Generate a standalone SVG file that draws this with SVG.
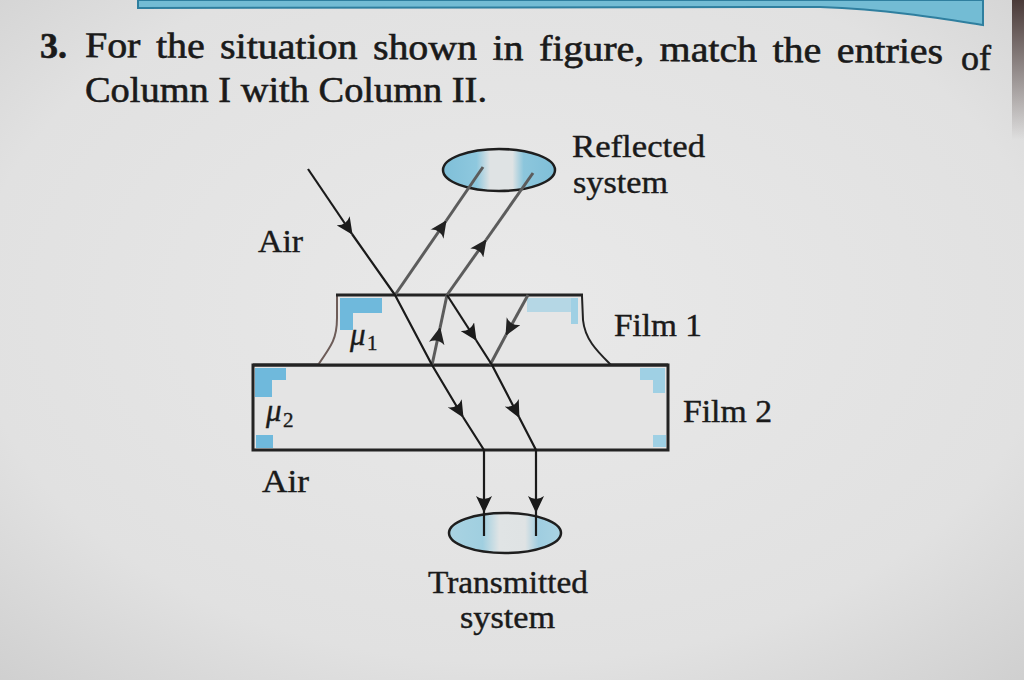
<svg xmlns="http://www.w3.org/2000/svg" width="1024" height="680" viewBox="0 0 1024 680">
  <defs>
    <radialGradient id="bg" cx="50%" cy="45%" r="75%">
      <stop offset="0" stop-color="#e9e9e9"/>
      <stop offset="0.7" stop-color="#e1e1e1"/>
      <stop offset="1" stop-color="#cfcfcf"/>
    </radialGradient>
    <linearGradient id="edge" x1="0" y1="0" x2="0" y2="1">
      <stop offset="0" stop-color="#4a3a38"/>
      <stop offset="1" stop-color="#4a3a38" stop-opacity="0"/>
    </linearGradient>
    <linearGradient id="lensR" x1="0" y1="0" x2="1" y2="0">
      <stop offset="0" stop-color="#7fbfd8"/>
      <stop offset="0.3" stop-color="#8ec8de"/>
      <stop offset="0.42" stop-color="#dfe3e4"/>
      <stop offset="0.62" stop-color="#dfe3e4"/>
      <stop offset="0.72" stop-color="#8cc6dc"/>
      <stop offset="1" stop-color="#7fbfd8"/>
    </linearGradient>
    <linearGradient id="lensT" x1="0" y1="0" x2="1" y2="0">
      <stop offset="0" stop-color="#a9d3e2"/>
      <stop offset="0.3" stop-color="#a0cfe0"/>
      <stop offset="0.45" stop-color="#e0e4e5"/>
      <stop offset="0.68" stop-color="#dfe3e4"/>
      <stop offset="0.8" stop-color="#9fcde0"/>
      <stop offset="1" stop-color="#a9d3e2"/>
    </linearGradient>
    <marker id="arrB" markerUnits="userSpaceOnUse" markerWidth="18" markerHeight="16" refX="16" refY="8" orient="auto" viewBox="0 0 18 16">
      <path d="M0,0 L17,8 L0,16 Q6,8 0,0 Z" fill="#1a1a1a"/>
    </marker>
    <marker id="arrG" markerUnits="userSpaceOnUse" markerWidth="18" markerHeight="16" refX="16" refY="8" orient="auto" viewBox="0 0 18 16">
      <path d="M0,0 L17,8 L0,16 Q6,8 0,0 Z" fill="#222"/>
    </marker>
  </defs>
  <style>
    .t { font-family: "Liberation Serif", "Times New Roman", serif; fill: #1a1a1a; stroke: #1a1a1a; stroke-width: 0.4; }
    .lbl { font-size: 31px; }
    .head { font-size: 36px; stroke-width: 0.6; }
    .ray { fill: none; stroke: #1a1a1a; stroke-width: 2.2; stroke-linejoin: round; }
    .rayG { fill: none; stroke: #5c5c5c; stroke-width: 3; }
    .patch { fill: #6fb9dc; }
    .patchL { fill: #9fd0e4; }
  </style>

  <rect x="0" y="0" width="1024" height="680" fill="url(#bg)"/>
  <rect x="1012" y="0" width="12" height="140" fill="url(#edge)"/>

  <!-- top band -->
  <path d="M138,0 L983,0 L983,25 C 945,19 895,10 820,7 L 138,8 Z" fill="#73bcd4" stroke="#2f7f9f" stroke-width="2"/>

  <!-- question text -->
  <g id="question">
    <text class="t head" x="40" y="58" font-weight="bold" font-size="34">3.</text>
    <text class="t head" x="85" y="57" word-spacing="5" textLength="858" lengthAdjust="spacingAndGlyphs" transform="rotate(0.4 85 57)">For the situation shown in figure, match the entries</text>
    <text class="t head" x="961" y="70">of</text>
    <text class="t head" x="85" y="102" textLength="402" lengthAdjust="spacingAndGlyphs">Column I with Column II.</text>
  </g>

  <!-- Film 2 -->
  <g id="film2">
    <rect x="253" y="365" width="415" height="85" fill="#e4e4e4"/>
    <path class="patch" d="M255,368 H286 V380 H272 V397 H255 Z"/>
    <rect class="patch" x="256" y="435" width="17" height="13"/>
    <path class="patchL" d="M640,368 H665 V393 H653 V380 H640 Z"/>
    <rect class="patchL" x="653" y="435" width="13" height="12"/>
    <rect x="253" y="365" width="415" height="85" fill="none" stroke="#232323" stroke-width="3"/>
    <text class="t lbl" x="266" y="421" font-style="italic">μ</text>
    <text class="t" x="283" y="427" font-size="21">2</text>
  </g>

  <!-- Film 1 -->
  <g id="film1">
    <path d="M318,365 C 332,345 337,338 337,318 L 337,295 L 582,295 L 583,320 C 585,340 598,352 611,365 Z" fill="#e6e6e6"/>
    <path class="patch" d="M340,298 H382 V313 H353 V330 H340 Z"/>
    <rect class="patchL" x="527" y="298" width="50" height="14" opacity="0.7"/>
    <rect class="patchL" x="571" y="298" width="7" height="26"/>
    <path d="M318,365 C 332,345 337,338 337,318 L 337,296" fill="none" stroke="#6d5c58" stroke-width="2"/>
    <path d="M582,296 L 583,320 C 585,340 598,352 611,365" fill="none" stroke="#222" stroke-width="2"/>
    <line x1="336" y1="295" x2="583" y2="295" stroke="#232323" stroke-width="3"/>
    <line x1="253" y1="365" x2="668" y2="365" stroke="#232323" stroke-width="3"/>
    <text class="t lbl" x="350" y="345" font-style="italic">μ</text>
    <text class="t" x="367" y="350" font-size="21">1</text>
  </g>

  <!-- Reflected system lens -->
  <g id="reflected">
    <ellipse cx="499" cy="170" rx="56" ry="21" fill="url(#lensR)" stroke="#1e1e1e" stroke-width="2.5"/>
    <text class="t lbl" x="572" y="157" textLength="133" lengthAdjust="spacingAndGlyphs">Reflected</text>
    <text class="t lbl" x="573" y="193" textLength="95" lengthAdjust="spacingAndGlyphs">system</text>
  </g>

  <!-- Transmitted system lens -->
  <g id="transmitted">
    <ellipse cx="505" cy="533" rx="56" ry="20" fill="url(#lensT)" stroke="#1e1e1e" stroke-width="2.5"/>
    <text class="t lbl" x="428" y="593" textLength="160" lengthAdjust="spacingAndGlyphs">Transmitted</text>
    <text class="t lbl" x="460" y="628" textLength="95" lengthAdjust="spacingAndGlyphs">system</text>
  </g>

  <!-- labels -->
  <g id="labels">
    <text class="t lbl" x="258" y="252" textLength="45" lengthAdjust="spacingAndGlyphs">Air</text>
    <text class="t lbl" x="262" y="492" textLength="47" lengthAdjust="spacingAndGlyphs">Air</text>
    <text class="t lbl" x="614" y="336" textLength="88" lengthAdjust="spacingAndGlyphs">Film 1</text>
    <text class="t lbl" x="683" y="422" textLength="89" lengthAdjust="spacingAndGlyphs">Film 2</text>
  </g>

  <!-- rays -->
  <g id="connectors">
    <!-- reflected rays (gray) -->
    <path class="rayG" d="M395,295 L446,221" marker-end="url(#arrG)"/>
    <path class="rayG" d="M446,221 L483,167"/>
    <path class="rayG" d="M447,295 L486,240" marker-end="url(#arrG)"/>
    <path class="rayG" d="M486,240 L533,173"/>
    <path class="rayG" d="M528,295 L506,335" marker-end="url(#arrG)"/>
    <path class="rayG" d="M506,335 L490,365"/>
    <path class="rayG" d="M432,365 L440,328" marker-end="url(#arrG)" stroke-width="2.4"/>
    <path class="rayG" d="M440,328 L447,295" stroke-width="2.4"/>
    <!-- incident / transmitted ray 1 -->
    <path class="ray" d="M308,169 L352,234" marker-end="url(#arrB)"/>
    <path class="ray" d="M352,234 L395,295 L432,365 L463,417" marker-end="url(#arrB)"/>
    <path class="ray" d="M463,417 L484,450 L484,512" marker-end="url(#arrB)"/>
    <path class="ray" d="M484,512 L484,536"/>
    <!-- transmitted ray 2 -->
    <path class="ray" d="M447,295 L476,340" marker-end="url(#arrB)"/>
    <path class="ray" d="M476,340 L492,365 L519,417" marker-end="url(#arrB)"/>
    <path class="ray" d="M519,417 L536,450 L536,512" marker-end="url(#arrB)"/>
    <path class="ray" d="M536,512 L536,536"/>
  </g>
</svg>
